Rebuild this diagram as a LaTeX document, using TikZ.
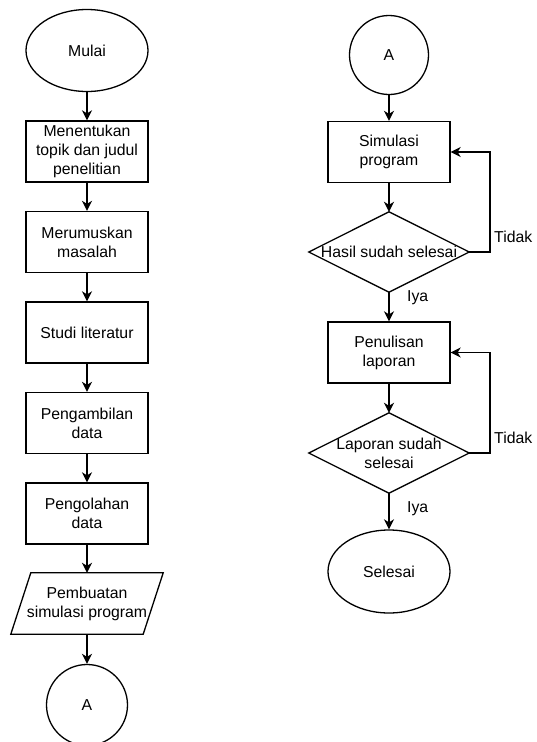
\documentclass[tikz,border=0pt]{standalone}
\usepackage{fontspec}
\setmainfont{Liberation Sans}
\usetikzlibrary{arrows.meta,calc,shapes.geometric}
\begin{document}
\begin{tikzpicture}[x=1pt,y=-1pt,
  every node/.style={font=\fontsize{15.8}{19}\selectfont, align=center, inner sep=0pt},
  proc/.style={draw, line width=1.3pt, minimum width=122pt, minimum height=61pt},
  term/.style={draw, line width=1.3pt, ellipse, minimum width=122pt, minimum height=82pt},
  conn/.style={draw, line width=1.3pt, circle, minimum size=81pt},
  dec/.style={minimum width=160pt, minimum height=80pt},
  shp/.style={line width=1.3pt, line join=miter},
  arr/.style={line width=1.7pt, -{Stealth[length=10pt,width=10pt,inset=3pt]}},
  lbl/.style={anchor=west}
]
\useasboundingbox[fill=white] (0,0) rectangle (537,742);

% left column
\node[term] (mulai) at (87,50.5) {Mulai};
\node[proc] (b1) at (87,151.5) {Menentukan\\topik dan judul\\penelitian};
\node[proc] (b2) at (87,242) {Merumuskan\\masalah};
\node[proc] (b3) at (87,332.5) {Studi literatur};
\node[proc] (b4) at (87,423) {Pengambilan\\data};
\node[proc] (b5) at (87,513.5) {Pengolahan\\data};
\node[minimum width=132pt, minimum height=61pt] (par) at (87,603.5) {Pembuatan\\simulasi program};
\draw[shp] ($(par.north west)+(10,0)$) -- ($(par.north east)+(10,0)$) -- ($(par.south east)+(-10,0)$) -- ($(par.south west)+(-10,0)$) -- cycle;
\node[conn] (a1) at (87,705) {A};

\draw[arr] (mulai) -- (b1);
\draw[arr] (b1) -- (b2);
\draw[arr] (b2) -- (b3);
\draw[arr] (b3) -- (b4);
\draw[arr] (b4) -- (b5);
\draw[arr] (b5) -- (par);
\draw[arr] (par) -- (a1);

% right column
\node[conn, minimum size=79pt] (a2) at (389,55) {A};
\node[proc] (s1) at (389,152) {Simulasi\\program};
\node[dec] (d1) at (389,252) {Hasil sudah selesai};
\draw[shp] (d1.north) -- (d1.east) -- (d1.south) -- (d1.west) -- cycle;
\node[proc] (s2) at (389,352.5) {Penulisan\\laporan};
\node[dec] (d2) at (389,453) {Laporan sudah\\selesai};
\draw[shp] (d2.north) -- (d2.east) -- (d2.south) -- (d2.west) -- cycle;
\node[term, minimum height=83pt] (sel) at (389,571.5) {Selesai};

\draw[arr] (a2) -- (s1);
\draw[arr] (s1) -- (d1.north);
\draw[arr] (d1.south) -- (s2);
\draw[arr] (s2) -- (d2.north);
\draw[arr] (d2.south) -- (sel);

\coordinate (c1) at (490,252);
\coordinate (c2) at (490,453);
\draw[arr] (d1.east) -- (c1) |- (s1.east);
\draw[arr] (d2.east) -- (c2) |- (s2.east);

\node[lbl] (t1) at (494,237) {Tidak};
\node[lbl] (t2) at (494,438) {Tidak};
\node[lbl] (i1) at (407,298) {Iya};
\node[lbl] (i2) at (407,509) {Iya};
\end{tikzpicture}
\end{document}
